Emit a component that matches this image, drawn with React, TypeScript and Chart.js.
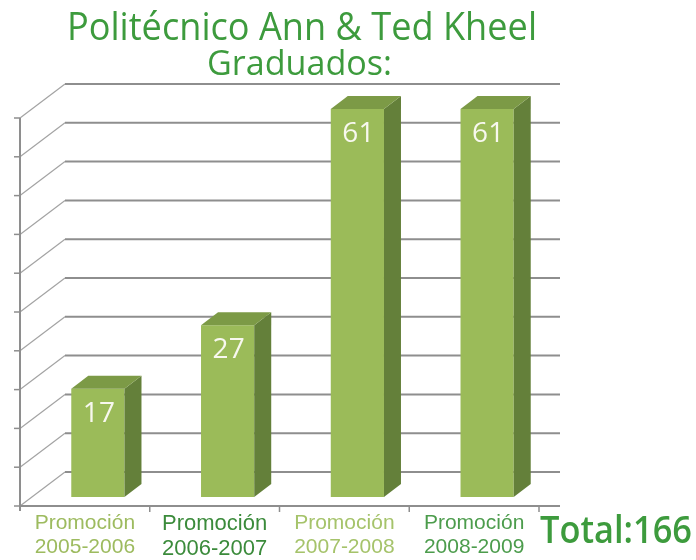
import { useEffect, useRef } from "react";
import { Chart, registerables } from "chart.js";

Chart.register(...registerables);

// ---- data ----
const TITLE = "Politécnico Ann & Ted Kheel";
const SUBTITLE = "Graduados:";
const TOTAL_LABEL = "Total:166";
const categories: string[][] = [
  ["Promoción", "2005-2006"],
  ["Promoción", "2006-2007"],
  ["Promoción", "2007-2008"],
  ["Promoción", "2008-2009"],
];
const graduates = [17, 27, 61, 61];
const labelColors = ["#9dbb5f", "#3b8b3b", "#a5c36a", "#4c9c4c"];
const Y_MAX = 61;
const GRID_STEPS = 10;

// ---- style / 3D geometry ----
const FRONT = { dx: -13, dy: 9 }; // bar plane -> front plane
const BACK = { dx: 32, dy: -25 }; // bar plane -> back wall
const BAR_DEPTH = { dx: 17, dy: -13 };
const FACE = "#9bbb59";
const SIDE = "#64803a";
const TOP = "#7c9a46";
const GREEN_TEXT = "#3d9b3d";

function line(ctx: CanvasRenderingContext2D, x1: number, y1: number, x2: number, y2: number) {
  ctx.beginPath();
  ctx.moveTo(x1, y1);
  ctx.lineTo(x2, y2);
  ctx.stroke();
}

function poly(ctx: CanvasRenderingContext2D, pts: number[][]) {
  ctx.beginPath();
  ctx.moveTo(pts[0][0], pts[0][1]);
  for (let i = 1; i < pts.length; i++) ctx.lineTo(pts[i][0], pts[i][1]);
  ctx.closePath();
  ctx.fill();
}

function fitText(
  ctx: CanvasRenderingContext2D,
  text: string,
  font: string,
  color: string,
  left: number,
  baseline: number,
  width: number
) {
  ctx.save();
  ctx.font = font;
  ctx.fillStyle = color;
  ctx.textAlign = "left";
  ctx.textBaseline = "alphabetic";
  const w = ctx.measureText(text).width;
  ctx.translate(left, baseline);
  ctx.scale(width / w, 1);
  ctx.fillText(text, 0, 0);
  ctx.restore();
}

const threeD = {
  id: "threeD",
  beforeDatasetsDraw(chart: any) {
    const { ctx, chartArea, scales } = chart;
    const ys = scales.y;
    const xs = scales.x;
    const frontX = chartArea.left + FRONT.dx;
    const backX = chartArea.left + BACK.dx;
    const rightEnd = chartArea.right + 8;
    ctx.save();
    ctx.lineCap = "butt";
    for (let i = 0; i <= GRID_STEPS; i++) {
      const v = (Y_MAX * i) / GRID_STEPS;
      const py = ys.getPixelForValue(v);
      const fy = py + FRONT.dy;
      const by = py + BACK.dy;
      ctx.strokeStyle = "#a3a3a3";
      ctx.lineWidth = 1.2;
      line(ctx, frontX, fy, backX, by);
      ctx.strokeStyle = "#8e8e8e";
      ctx.lineWidth = 2;
      line(ctx, backX, by, rightEnd, by);
      ctx.strokeStyle = "#8e8e8e";
      ctx.lineWidth = 1.5;
      line(ctx, frontX - 6, fy, frontX, fy);
    }
    const topFront = ys.getPixelForValue(Y_MAX) + FRONT.dy;
    const botFront = ys.getPixelForValue(0) + FRONT.dy;
    ctx.strokeStyle = "#8e8e8e";
    ctx.lineWidth = 2;
    line(ctx, frontX, topFront, frontX, botFront + 5);
    line(ctx, frontX, botFront, rightEnd, botFront);
    const step = xs.getPixelForValue(1) - xs.getPixelForValue(0);
    ctx.lineWidth = 1.5;
    for (let i = 0; i < categories.length; i++) {
      const bx = xs.getPixelForValue(i) + step / 2 + FRONT.dx;
      line(ctx, bx, botFront, bx, botFront + 6);
    }
    ctx.restore();
  },
  afterDatasetsDraw(chart: any) {
    const { ctx } = chart;
    const meta = chart.getDatasetMeta(0);
    ctx.save();
    meta.data.forEach((bar: any, i: number) => {
      const { x, y, base, width } = bar.getProps(["x", "y", "base", "width"], true);
      const l = x - width / 2;
      const r = x + width / 2;
      ctx.fillStyle = SIDE;
      poly(ctx, [
        [r, y],
        [r + BAR_DEPTH.dx, y + BAR_DEPTH.dy],
        [r + BAR_DEPTH.dx, base + BAR_DEPTH.dy],
        [r, base],
      ]);
      ctx.fillStyle = TOP;
      poly(ctx, [
        [l, y],
        [l + BAR_DEPTH.dx, y + BAR_DEPTH.dy],
        [r + BAR_DEPTH.dx, y + BAR_DEPTH.dy],
        [r, y],
      ]);
      ctx.fillStyle = "#f8f8ef";
      ctx.font = '28px "Open Sans"';
      ctx.textAlign = "center";
      ctx.textBaseline = "alphabetic";
      ctx.fillText(String(graduates[i]), x + 1, y + 33);
    });
    ctx.restore();
  },
  afterDraw(chart: any) {
    const { ctx } = chart;
    fitText(ctx, TITLE, '38px "Open Sans"', GREEN_TEXT, 67, 40, 470);
    fitText(ctx, SUBTITLE, '35px "Open Sans"', GREEN_TEXT, 207, 75, 185);
    fitText(ctx, TOTAL_LABEL, '600 38px "Open Sans"', GREEN_TEXT, 540, 543, 152);
  },
};

export default function App() {
  const ref = useRef<HTMLCanvasElement | null>(null);
  useEffect(() => {
    document.body.style.margin = "0";
    const canvas = ref.current;
    if (!canvas) return;
    const chart = new Chart(canvas, {
      type: "bar",
      data: {
        labels: categories,
        datasets: [
          {
            data: graduates,
            backgroundColor: FACE,
            borderWidth: 0,
            categoryPercentage: 1,
            barPercentage: 0.41,
          },
        ],
      },
      options: {
        animation: false,
        responsive: false,
        devicePixelRatio: 1,
        layout: { padding: { top: 109, right: 144, left: 0, bottom: 0 } },
        plugins: {
          legend: { display: false },
          title: { display: false },
          tooltip: { enabled: false },
        },
        scales: {
          x: {
            grid: { display: false, drawTicks: false },
            border: { display: false },
            ticks: {
              padding: 14,
              labelOffset: -13,
              maxRotation: 0,
              autoSkip: false,
              color: (c: any) => labelColors[c.index] ?? "#666",
              font: (c: any) => ({
                family: '"Liberation Sans", Arial, sans-serif',
                size: c.index === 1 ? 22 : 21,
                lineHeight: 1.15,
              }),
            },
            afterFit: (s: any) => {
              s.height = 63;
            },
          },
          y: {
            min: 0,
            max: Y_MAX,
            grid: { display: false, drawTicks: false },
            border: { display: false },
            ticks: { display: false, count: GRID_STEPS + 1 },
            afterFit: (s: any) => {
              s.width = 33;
            },
          },
        },
      },
      plugins: [threeD],
    });
    return () => chart.destroy();
  }, []);
  return (
    <div style={{ position: "fixed", left: 0, top: 0, width: 696, height: 560, background: "#fff" }}>
      <canvas ref={ref} width={696} height={560} style={{ display: "block" }} />
    </div>
  );
}
